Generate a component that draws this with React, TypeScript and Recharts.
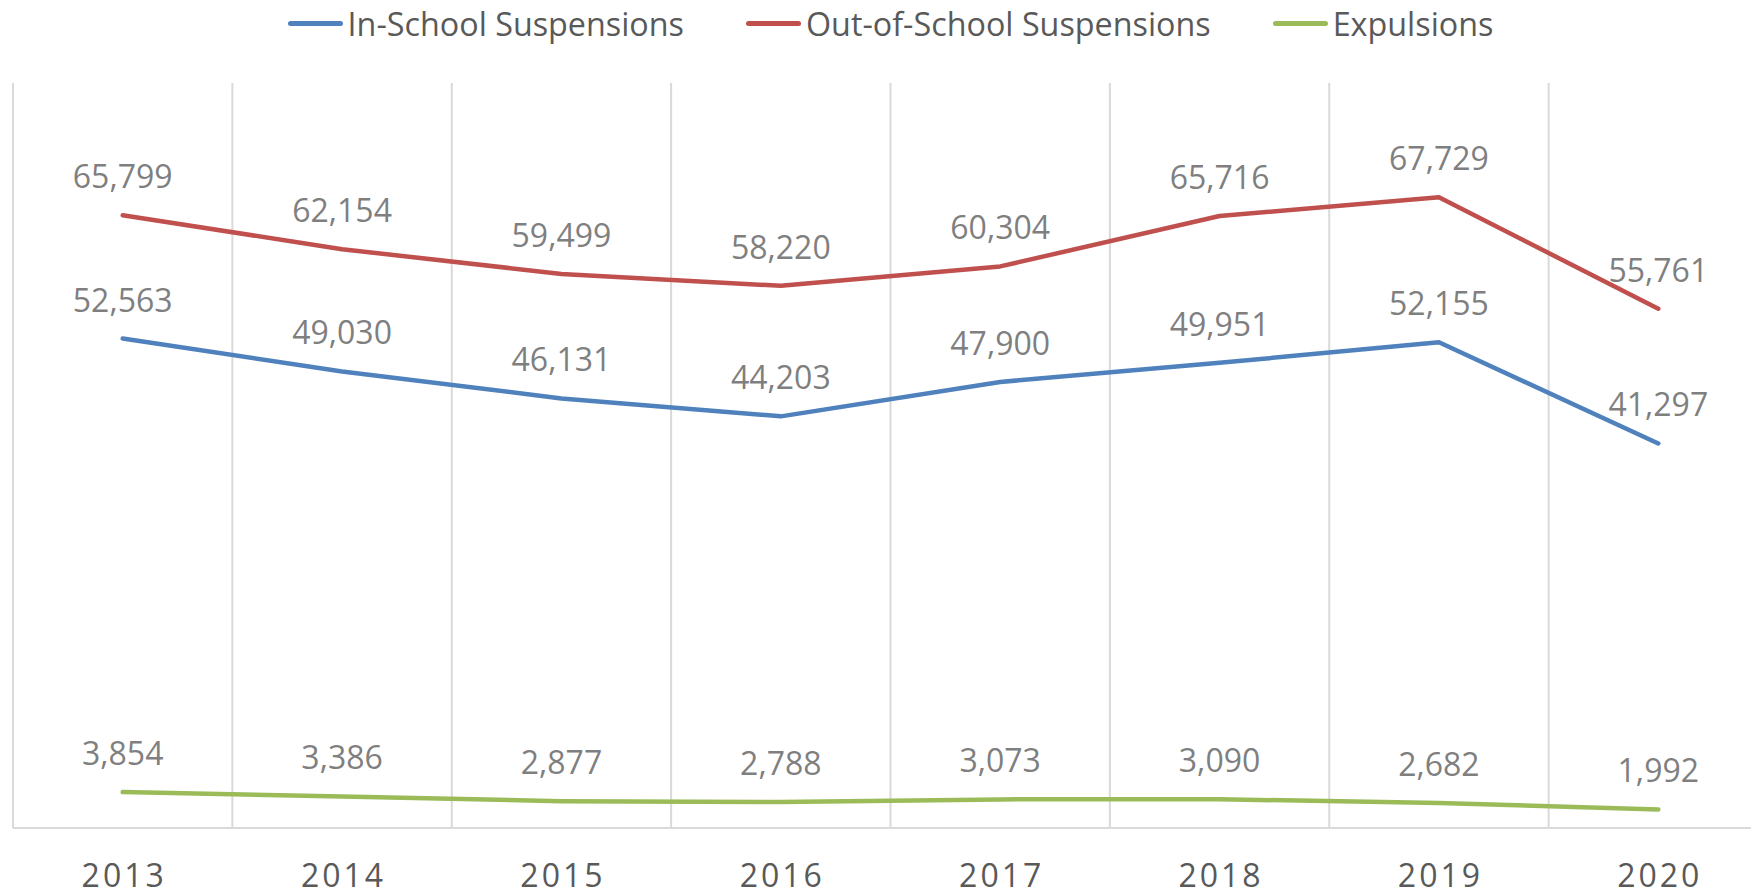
import { LineChart, Line, XAxis, YAxis, CartesianGrid, Legend, LabelList } from 'recharts';

const years = ['2013', '2014', '2015', '2016', '2017', '2018', '2019', '2020'];
const inSchool = [52563, 49030, 46131, 44203, 47900, 49951, 52155, 41297];
const outOfSchool = [65799, 62154, 59499, 58220, 60304, 65716, 67729, 55761];
const expulsions = [3854, 3386, 2877, 2788, 3073, 3090, 2682, 1992];

const seriesInfo = [
  { key: 'inSchool', name: 'In-School Suspensions', color: '#4f81bd' },
  { key: 'outOfSchool', name: 'Out-of-School Suspensions', color: '#c0504d' },
  { key: 'expulsions', name: 'Expulsions', color: '#9bbb59' },
];

const data = years.map((year, i) => ({
  year,
  inSchool: inSchool[i],
  outOfSchool: outOfSchool[i],
  expulsions: expulsions[i],
}));

const FONT = '"Open Sans", sans-serif';

function ValueLabel(props: any) {
  const { x, y, value } = props;
  return (
    <text x={x} y={y - 27} textAnchor="middle" fill="#7f7f7f" fontSize={32} fontFamily={FONT}>
      {Number(value).toLocaleString('en-US')}
    </text>
  );
}

function YearTick(props: any) {
  const { x, y, payload } = props;
  return (
    <text x={x + 1.5} y={y + 59} textAnchor="middle" fill="#595959" fontSize={32} fontFamily={FONT} letterSpacing={3}>
      {payload.value}
    </text>
  );
}

function LegendBox() {
  return (
    <div style={{ height: 46, display: 'flex', justifyContent: 'center', alignItems: 'center', fontFamily: FONT }}>
      {seriesInfo.map((s, i) => (
        <div key={s.key} style={{ display: 'flex', alignItems: 'center', marginLeft: i === 0 ? 0 : 62 }}>
          <span style={{ width: 55, height: 5, borderRadius: 3, background: s.color, marginRight: 5 }} />
          <span style={{ fontSize: 32.3, color: '#595959', lineHeight: '46px' }}>{s.name}</span>
        </div>
      ))}
    </div>
  );
}

export default function App() {
  return (
    <div style={{ position: 'absolute', left: 0, top: 0, width: 1751, height: 895, overflow: 'hidden', background: '#fff' }}>
      <LineChart width={1781} height={895} data={data} margin={{ top: 37, right: 13, bottom: 7, left: 13 }}>
        <CartesianGrid
          horizontal={false}
          stroke="#d9d9d9"
          strokeWidth={2}
          verticalCoordinatesGenerator={({ offset }: any) =>
            years.map((_, i) => offset.left + (i * offset.width) / years.length).concat(offset.left + offset.width)
          }
        />
        <XAxis
          dataKey="year"
          height={60}
          padding={{ left: 109.7, right: 109.7 }}
          axisLine={{ stroke: '#d9d9d9', strokeWidth: 2 }}
          tickLine={false}
          tickSize={0}
          tickMargin={0}
          tick={<YearTick />}
          interval={0}
        />
        <YAxis hide domain={[0, 80000]} />
        <Legend verticalAlign="top" content={<LegendBox />} wrapperStyle={{ top: 0 }} />
        {seriesInfo.map((s) => (
          <Line
            key={s.key}
            type="linear"
            dataKey={s.key}
            name={s.name}
            stroke={s.color}
            strokeWidth={4.5}
            strokeLinecap="round"
            strokeLinejoin="round"
            dot={false}
            activeDot={false}
            isAnimationActive={false}
          >
            <LabelList dataKey={s.key} content={<ValueLabel />} />
          </Line>
        ))}
      </LineChart>
    </div>
  );
}
